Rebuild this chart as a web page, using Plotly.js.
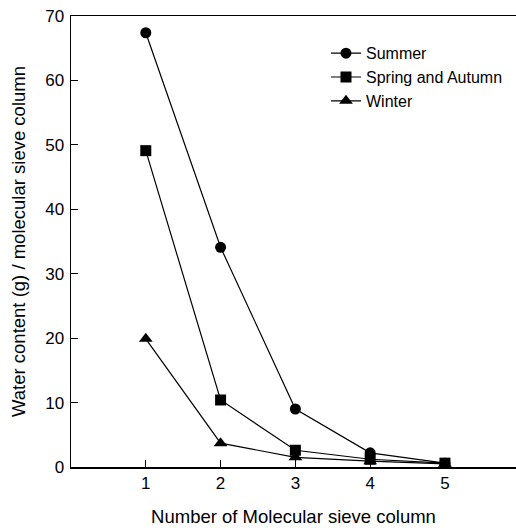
<!DOCTYPE html>
<html>
<head>
<meta charset="utf-8">
<script src="https://cdn.plot.ly/plotly-3.0.1.min.js"></script>
<style>html,body{margin:0;padding:0;background:#fff;}#chart{width:516px;height:528px;}</style>
</head>
<body>
<div id="chart"></div>
<script>
const columns = [1, 2, 3, 4, 5];
const summer = [67.4, 34.1, 9.0, 2.2, 0.6];
const springAutumn = [49.1, 10.4, 2.6, 1.2, 0.6];
const winter = [19.9, 3.7, 1.5, 0.9, 0.5];
const seriesNames = ["Summer", "Spring and Autumn", "Winter"];
const xTicks = [1, 2, 3, 4, 5];
const yTicks = [0, 10, 20, 30, 40, 50, 60, 70];

const font = {family: "Liberation Sans, Arial, sans-serif", color: "#000"};
function tr(y, name, sym) {
  return {x: columns, y: y, name: name, type: "scatter", mode: "lines+markers",
    line: {color: "#000", width: 1.2},
    marker: {symbol: sym, size: sym === "triangle-up" ? 12 : 11, color: "#000"}};
}
const data = [
  tr(summer, seriesNames[0], "circle"),
  tr(springAutumn, seriesNames[1], "square"),
  tr(winter, seriesNames[2], "triangle-up")
];
const layout = {
  width: 516, height: 528,
  margin: {l: 71, r: 0, t: 16, b: 61},
  paper_bgcolor: "#fff", plot_bgcolor: "#fff",
  font: Object.assign({size: 16}, font),
  showlegend: true,
  legend: {x: 0.573, y: 0.955, xanchor: "left", yanchor: "top", bgcolor: "rgba(0,0,0,0)",
    font: Object.assign({size: 16}, font), tracegroupgap: 0, itemwidth: 30},
  xaxis: {range: [0, 5.95], tickvals: xTicks, ticktext: xTicks.map(String),
    ticks: "inside", ticklen: 7, tickwidth: 1.2, tickcolor: "#000",
    showline: true, linecolor: "#000", linewidth: 1.5, mirror: true,
    showgrid: false, zeroline: false,
    tickfont: Object.assign({size: 17}, font),
    title: {text: "Number of Molecular sieve column", font: Object.assign({size: 18.5}, font), standoff: 18}},
  yaxis: {range: [0, 70], tickvals: yTicks, ticktext: yTicks.map(String),
    ticks: "inside", ticklen: 7, tickwidth: 1.2, tickcolor: "#000",
    showline: true, linecolor: "#000", linewidth: 1.5,
    showgrid: false, zeroline: false, ticklabelstandoff: 2,
    tickfont: Object.assign({size: 17}, font),
    title: {text: "Water content (g) / molecular sieve column", font: Object.assign({size: 18.5}, font), standoff: 14}}
};
Plotly.newPlot("chart", data, layout, {displayModeBar: false, staticPlot: true});
</script>
</body>
</html>
